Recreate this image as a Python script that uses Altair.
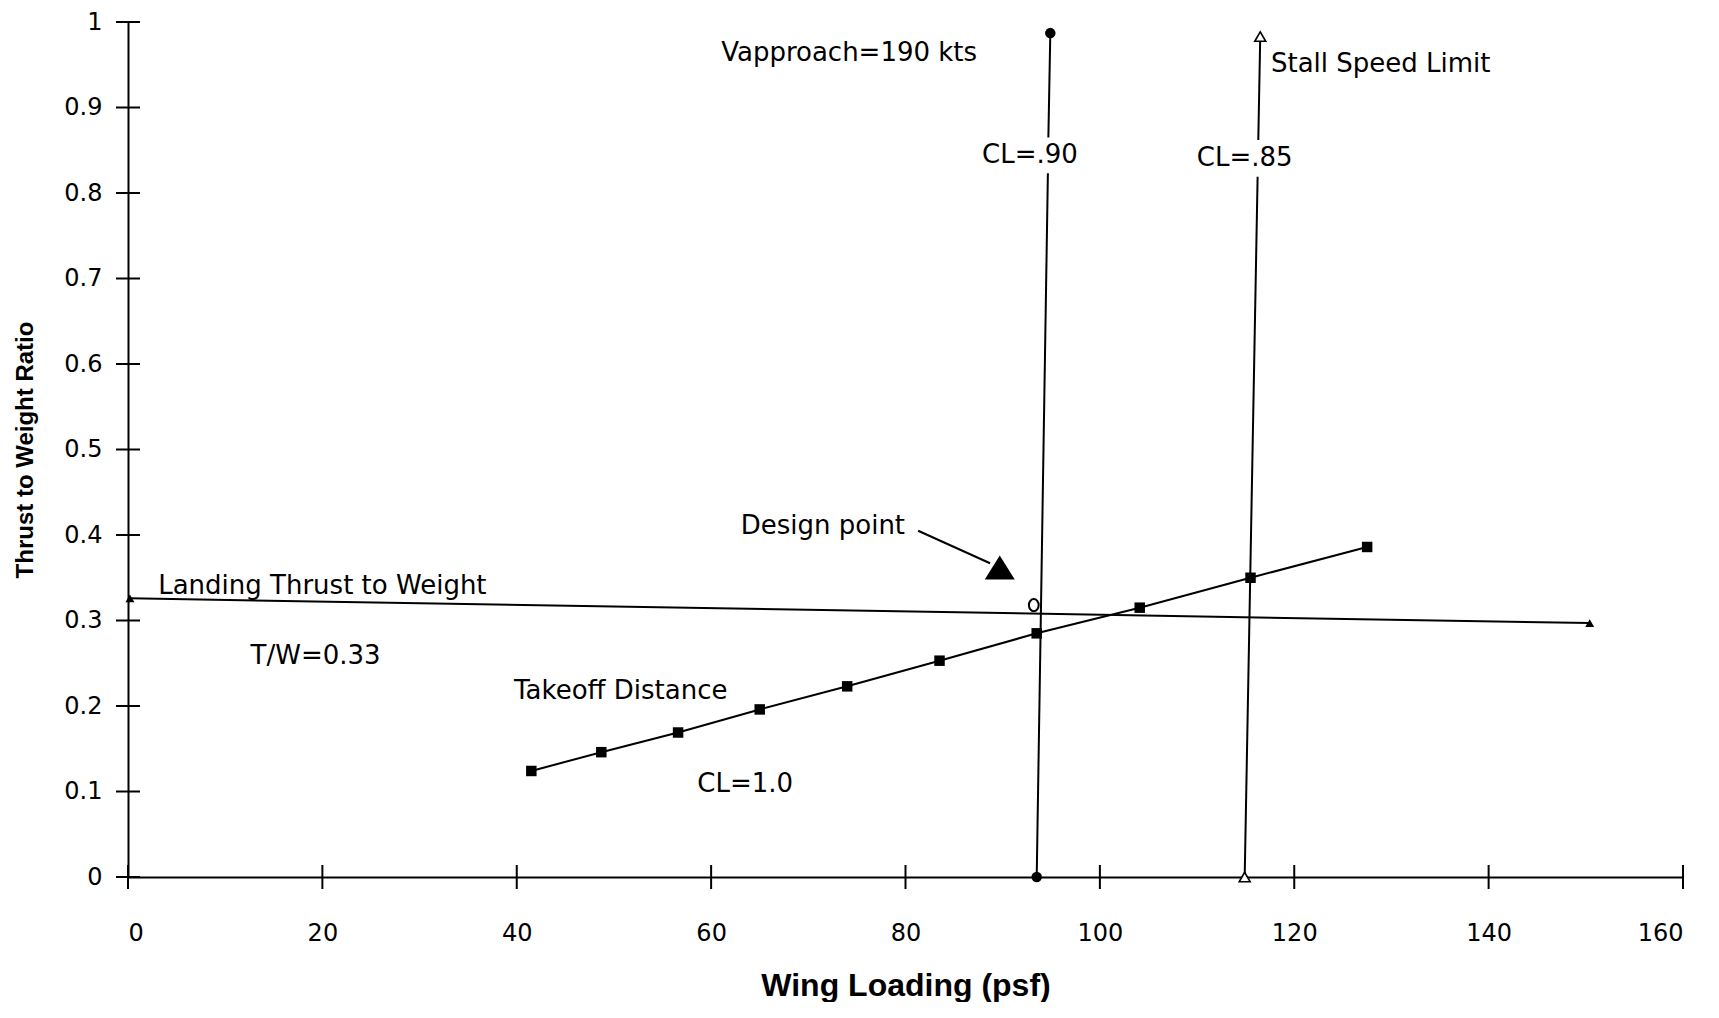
import altair as alt
import pandas as pd

# ---- data ----
x_ticks = [0, 20, 40, 60, 80, 100, 120, 140, 160]
y_ticks = [0, 0.1, 0.2, 0.3, 0.4, 0.5, 0.6, 0.7, 0.8, 0.9, 1.0]

takeoff_x = [41.5, 48.7, 56.6, 65.0, 74.0, 83.5, 93.5, 104.1, 115.5, 127.5]
takeoff_y = [0.124, 0.146, 0.169, 0.196, 0.223, 0.253, 0.285, 0.315, 0.350, 0.386]

landing_x = [0.2, 150.4]
landing_y = [0.326, 0.297]

# vertical constraint lines (two pieces each, broken around their labels)
vapp_x0 = [93.5, 94.7]
vapp_y0 = [0.0, 0.865]
vapp_x1 = [94.65, 94.9]
vapp_y1 = [0.823, 0.987]
vapp_end_x = [93.5, 94.9]
vapp_end_y = [0.0, 0.987]

stall_x0 = [114.9, 116.3]
stall_y0 = [0.0, 0.862]
stall_x1 = [116.23, 116.5]
stall_y1 = [0.819, 0.983]
stall_end_x = [114.9, 116.5]
stall_end_y = [0.0, 0.983]

design_x = [89.7]
design_y = [0.362]
circle_x = [93.2]
circle_y = [0.318]
arrow_x = [81.3, 88.7]
arrow_y = [0.405, 0.367]

labels = ["Vapproach=190 kts", "Stall Speed Limit", "CL=.90", "CL=.85",
          "Design point", "Landing Thrust to Weight", "T/W=0.33",
          "Takeoff Distance", "CL=1.0"]
label_x = [74.2, 128.9, 92.8, 114.9, 71.5, 20.0, 19.3, 50.7, 63.5]
label_y = [0.964, 0.951, 0.845, 0.841, 0.410, 0.340, 0.259, 0.218, 0.109]

# ---- layout ----
W, H = 1555, 855
FONT = "DejaVu Sans"

xs = alt.Scale(domain=[0, 160], nice=False, zero=False)
ys = alt.Scale(domain=[0, 1], nice=False, zero=False)

x_axis = alt.Axis(values=x_ticks, title="Wing Loading (psf)", grid=False, ticks=False,
                  tickSize=0, labelPadding=44, labelFontSize=24, labelFont=FONT,
                  labelColor="black", domainColor="black", domainWidth=2,
                  titleFont="Liberation Sans", titleFontSize=32, titleFontWeight="bold",
                  titleColor="black", titleBaseline="middle", titleY=108, format="d")
y_axis = alt.Axis(values=y_ticks, title="Thrust to Weight Ratio", grid=False, ticks=False,
                  tickSize=0, labelPadding=26, labelFontSize=24, labelFont=FONT,
                  labelColor="black", domainColor="black", domainWidth=2,
                  titleFont="Liberation Sans", titleFontSize=24, titleFontWeight="bold",
                  titleColor="black", titleAngle=270, titleBaseline="middle",
                  titleX=-103, titleY=H / 2, format=".1~f")


def X(field):
    return alt.X(field, scale=xs, axis=x_axis)


def Y(field):
    return alt.Y(field, scale=ys, axis=y_axis)


ytick_df = pd.DataFrame({"v": y_ticks})
xtick_df = pd.DataFrame({"v": x_ticks})

ytick_layer = alt.Chart(ytick_df).mark_rule(color="black", strokeWidth=2).encode(
    y=Y("v:Q"), x=alt.value(-12), x2=alt.value(12))
xtick_layer = alt.Chart(xtick_df).mark_rule(color="black", strokeWidth=2).encode(
    x=X("v:Q"), y=alt.value(H - 12), y2=alt.value(H + 12))

takeoff_df = pd.DataFrame({"x": takeoff_x, "y": takeoff_y})
takeoff_line = alt.Chart(takeoff_df).mark_line(color="black", strokeWidth=2).encode(
    x=X("x:Q"), y=Y("y:Q"))
takeoff_pts = alt.Chart(takeoff_df).mark_point(shape="square", filled=True, color="black",
                                               size=110, opacity=1).encode(
    x=X("x:Q"), y=Y("y:Q"))

landing_df = pd.DataFrame({"x": landing_x, "y": landing_y})
landing_line = alt.Chart(landing_df).mark_line(color="black", strokeWidth=2).encode(
    x=X("x:Q"), y=Y("y:Q"))
landing_pts = alt.Chart(landing_df).mark_point(shape="triangle-up", filled=True, color="black",
                                               size=80, opacity=1).encode(
    x=X("x:Q"), y=Y("y:Q"))

seg_df = pd.DataFrame({"x0": vapp_x0 + stall_x0, "y0": vapp_y0 + stall_y0,
                       "x1": vapp_x1 + stall_x1, "y1": vapp_y1 + stall_y1})
segs = alt.Chart(seg_df).mark_rule(color="black", strokeWidth=2).encode(
    x=X("x0:Q"), y=Y("y0:Q"), x2="x1:Q", y2="y1:Q")

vapp_df = pd.DataFrame({"x": vapp_end_x, "y": vapp_end_y})
vapp_pts = alt.Chart(vapp_df).mark_point(shape="circle", filled=True, color="black",
                                         size=110, opacity=1).encode(
    x=X("x:Q"), y=Y("y:Q"))

stall_df = pd.DataFrame({"x": stall_end_x, "y": stall_end_y})
stall_pts = alt.Chart(stall_df).mark_point(shape="triangle-up", filled=True, fill="white",
                                           stroke="black", strokeWidth=1.6,
                                           size=120, opacity=1).encode(
    x=X("x:Q"), y=Y("y:Q"))

design_df = pd.DataFrame({"x": design_x, "y": design_y})
design_pt = alt.Chart(design_df).mark_point(shape="M-1,0.8L0,-0.8L1,0.8Z", filled=True,
                                            color="black", size=900, opacity=1).encode(
    x=X("x:Q"), y=Y("y:Q"))

circle_df = pd.DataFrame({"x": circle_x, "y": circle_y})
circle_pt = alt.Chart(circle_df).mark_point(shape="M-0.8,0A0.8,1 0 1,0 0.8,0A0.8,1 0 1,0 -0.8,0Z",
                                            filled=False, color="black",
                                            strokeWidth=2, size=150, opacity=1).encode(
    x=X("x:Q"), y=Y("y:Q"))

arrow_df = pd.DataFrame({"x": arrow_x, "y": arrow_y})
arrow = alt.Chart(arrow_df).mark_line(color="black", strokeWidth=2).encode(
    x=X("x:Q"), y=Y("y:Q"))

text_df = pd.DataFrame({"label": labels, "x": label_x, "y": label_y})
texts = alt.Chart(text_df).mark_text(font=FONT, fontSize=26, color="black",
                                     align="center", baseline="middle").encode(
    x=X("x:Q"), y=Y("y:Q"), text="label:N")

chart = alt.layer(
    ytick_layer, xtick_layer, landing_line, takeoff_line, segs, arrow,
    takeoff_pts, landing_pts, vapp_pts, stall_pts, design_pt, circle_pt, texts
).properties(
    width=W, height=H, autosize="none",
    padding={"left": 120, "top": 14, "right": 28, "bottom": 125},
    background="white"
).configure_view(stroke=None)

chart.save("out.html", embed_options={"renderer": "svg", "actions": False})
